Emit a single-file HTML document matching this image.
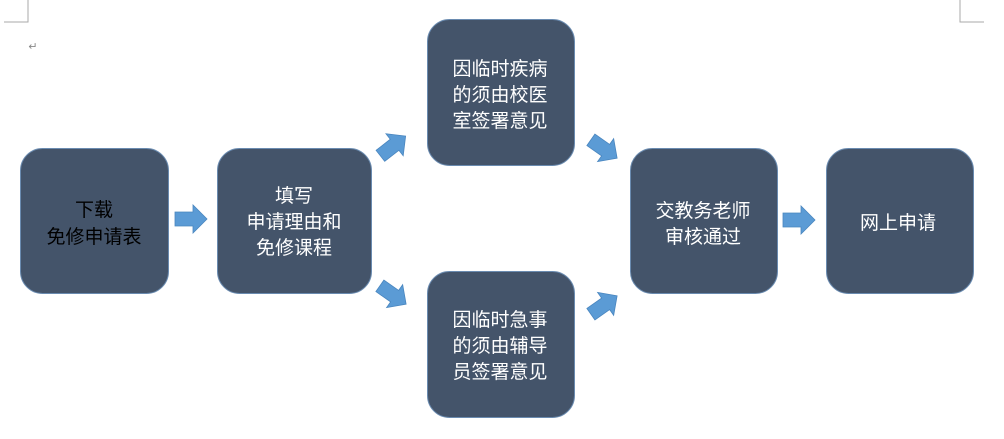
<!DOCTYPE html>
<html><head><meta charset="utf-8"><style>
html,body{margin:0;padding:0;background:#fff;width:1004px;height:439px;overflow:hidden}
svg{display:block}
text{font-family:"Liberation Sans","Noto Sans CJK SC",sans-serif;font-size:19px;fill:#fff;text-anchor:middle}
</style></head><body>
<svg width="1004" height="439" viewBox="0 0 1004 439">
<defs>
<g id="ar"><polygon points="-16,-7 2,-7 2,-14 16,0 2,14 2,7 -16,7" fill="#5B9BD5" stroke="#4A86BF" stroke-width="0.8"/></g>
</defs>
<path d="M28 0 V22 H4" fill="none" stroke="#aaa" stroke-width="1"/>
<path d="M960 0 V22 H984" fill="none" stroke="#aaa" stroke-width="1"/>
<text x="33" y="50" style="font-size:11px;fill:#888">↵</text>
<g fill="#44546A" stroke="#6A8BB0" stroke-width="1">
<rect x="20.5" y="148.5" width="148" height="145" rx="22"/>
<rect x="217.5" y="148.5" width="154" height="145" rx="22"/>
<rect x="427.5" y="19.5" width="147" height="146" rx="22"/>
<rect x="427.5" y="271.5" width="147" height="146" rx="22"/>
<rect x="630.5" y="148.5" width="147" height="145" rx="22"/>
<rect x="826.5" y="148.5" width="147" height="145" rx="22"/>
</g>
<use href="#ar" transform="translate(191,219)"/>
<use href="#ar" transform="translate(799,220)"/>
<use href="#ar" transform="translate(393,146) rotate(-38)"/>
<use href="#ar" transform="translate(393,295) rotate(35)"/>
<use href="#ar" transform="translate(604,149) rotate(35)"/>
<use href="#ar" transform="translate(604,305) rotate(-35)"/>
<text x="94" y="216" style="fill:#000">下载</text>
<text x="94" y="243" style="fill:#000">免修申请表</text>
<text x="294" y="202">填写</text>
<text x="294" y="228">申请理由和</text>
<text x="294" y="254">免修课程</text>
<text x="500" y="75">因临时疾病</text>
<text x="500" y="101">的须由校医</text>
<text x="500" y="127">室签署意见</text>
<text x="500" y="326">因临时急事</text>
<text x="500" y="352">的须由辅导</text>
<text x="500" y="378">员签署意见</text>
<text x="703" y="217">交教务老师</text>
<text x="703" y="243">审核通过</text>
<text x="898" y="229">网上申请</text>
</svg>
</body></html>
